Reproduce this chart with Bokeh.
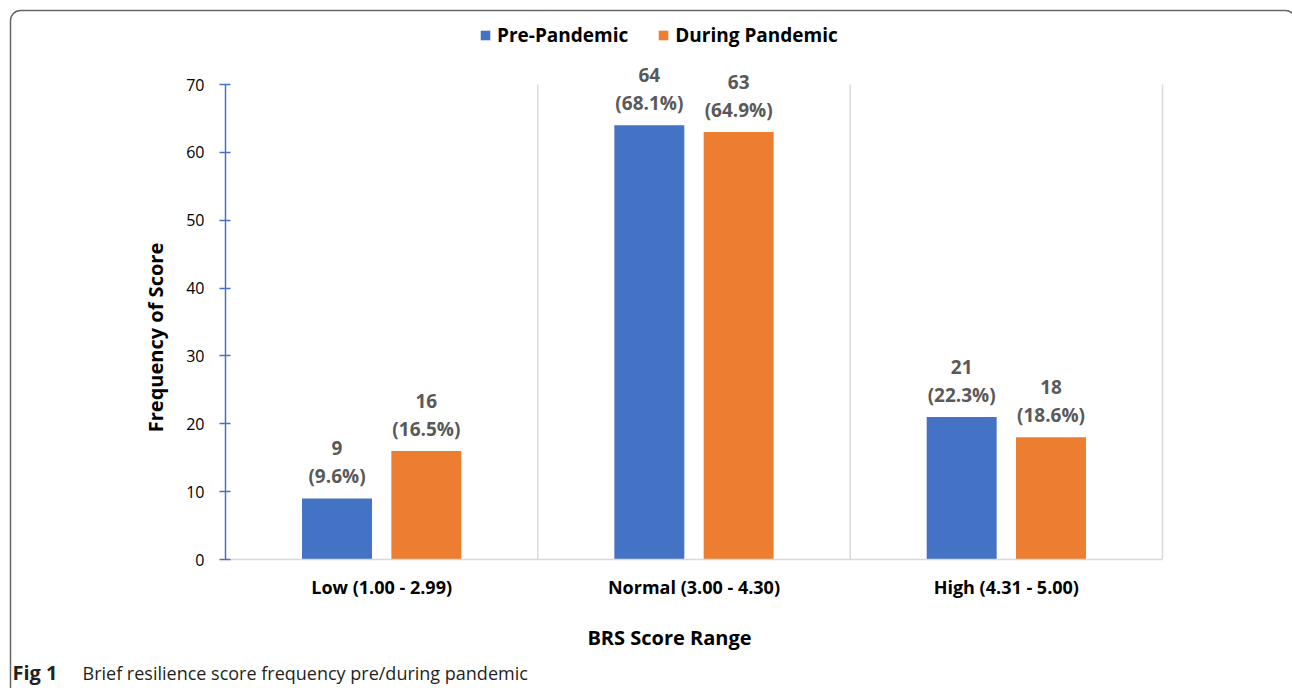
import numpy as np
from bokeh.plotting import figure
from bokeh.models import (ColumnDataSource, FixedTicker, Legend, LegendItem,
                          Label, BoxAnnotation, Range1d)
from bokeh.core.properties import value
from bokeh.embed import file_html
from bokeh.resources import INLINE

categories = ["Low (1.00 - 2.99)", "Normal (3.00 - 4.30)", "High (4.31 - 5.00)"]
pre_values = [9, 64, 21]
pre_pct = ["(9.6%)", "(68.1%)", "(22.3%)"]
during_values = [16, 63, 18]
during_pct = ["(16.5%)", "(64.9%)", "(18.6%)"]
series_names = ["Pre-Pandemic", "During Pandemic"]
y_ticks = [0, 10, 20, 30, 40, 50, 60, 70]
y_max = 70
x_title = "BRS Score Range"
y_title = "Frequency of Score"
caption_bold = "Fig 1"
caption_text = "Brief resilience score frequency pre/during pandemic"

FONT = "Open Sans"
BLUE = "#4472C4"
ORANGE = "#ED7D31"
LABEL_GRAY = "#595959"

W, H = 1292, 688
# frame layout (pixels) of the plotting area inside the canvas
AX_LEFT, AX_RIGHT, AX_TOP, AX_BOTTOM = 225, 1162, 84, 559

n = len(categories)
xppu = (AX_RIGHT - AX_LEFT) / n
yppu = (AX_BOTTOM - AX_TOP) / y_max
x_start = -AX_LEFT / xppu
x_end = n + (W - AX_RIGHT) / xppu
y_end = y_max + AX_TOP / yppu
y_start = -(H - AX_BOTTOM) / yppu

centers = np.arange(n) + 0.5
bar_w = 0.224
off = 0.143

src_pre = ColumnDataSource(dict(x=centers - off, top=pre_values,
                                num=[str(v) for v in pre_values], pct=pre_pct))
src_dur = ColumnDataSource(dict(x=centers + off, top=during_values,
                                num=[str(v) for v in during_values], pct=during_pct))

p = figure(width=W, height=H, output_backend="svg", toolbar_location=None,
           x_range=Range1d(x_start, x_end), y_range=Range1d(y_start, y_end),
           min_border=0, min_border_left=0, min_border_right=0,
           min_border_top=0, min_border_bottom=0)
p.outline_line_color = None
p.background_fill_color = "white"
p.border_fill_color = "white"
p.xgrid.grid_line_color = None
p.ygrid.grid_line_color = None

# category separators (vertical gridlines)
seps = np.arange(1, n + 1)
p.segment(x0=seps, x1=seps, y0=[0] * n, y1=[y_max] * n,
          line_color="#d9d9d9", line_width=1.5)

r1 = p.vbar(x="x", top="top", width=bar_w, source=src_pre, color=BLUE, line_color=None)
r2 = p.vbar(x="x", top="top", width=bar_w, source=src_dur, color=ORANGE, line_color=None)

for src in (src_pre, src_dur):
    p.text(x="x", y="top", text="pct", source=src, y_offset=-22,
           text_align="center", text_baseline="middle",
           text_font=value(FONT), text_font_size="19px", text_font_style="bold",
           text_color=LABEL_GRAY)
    p.text(x="x", y="top", text="num", source=src, y_offset=-50,
           text_align="center", text_baseline="middle",
           text_font=value(FONT), text_font_size="19px", text_font_style="bold",
           text_color=LABEL_GRAY)

# x axis
xa = p.xaxis[0]
xa.fixed_location = 0
xa.bounds = (0, n)
xa.ticker = FixedTicker(ticks=list(centers))
xa.major_label_overrides = {float(c): cat for c, cat in zip(centers, categories)}
xa.major_tick_line_color = None
xa.minor_tick_line_color = None
xa.axis_line_color = "#d9d9d9"
xa.axis_line_width = 1.5
xa.major_label_text_font = FONT
xa.major_label_text_font_size = "18px"
xa.major_label_text_font_style = "bold"
xa.major_label_text_color = "black"
xa.major_label_standoff = 9

# y axis
ya = p.yaxis[0]
ya.fixed_location = 0
ya.bounds = (0, y_max)
ya.ticker = FixedTicker(ticks=y_ticks)
ya.axis_line_color = BLUE
ya.axis_line_width = 1.5
ya.major_tick_line_color = BLUE
ya.major_tick_line_width = 1.5
ya.major_tick_in = 5
ya.major_tick_out = 6
ya.minor_tick_line_color = None
ya.major_label_text_font = FONT
ya.major_label_text_font_size = "16px"
ya.major_label_text_color = "black"
ya.major_label_standoff = 15

# axis titles (placed as in the reference, slightly off-centre)
p.add_layout(Label(x=669, y=H - 637, x_units="screen", y_units="screen",
                   text=x_title, text_font=FONT, text_font_size="20px",
                   text_font_style="bold", text_color="black",
                   text_align="center", text_baseline="middle"))
p.add_layout(Label(x=155, y=H - 337, x_units="screen", y_units="screen",
                   text=y_title, angle=np.pi / 2, text_font=FONT,
                   text_font_size="20px", text_font_style="bold",
                   text_color="black", text_align="center",
                   text_baseline="middle"))

legend = Legend(items=[LegendItem(label=series_names[0], renderers=[r1]),
                       LegendItem(label=series_names[1], renderers=[r2])],
                orientation="horizontal", location=(479, H - 48),
                padding=0, margin=0, spacing=29, glyph_width=12, glyph_height=12,
                label_height=20, label_standoff=6, label_text_font=FONT,
                label_text_font_size="19px",
                label_text_font_style="bold", label_text_color="black",
                border_line_color=None, background_fill_alpha=0)
p.add_layout(legend, "center")

# outer figure box
p.add_layout(BoxAnnotation(left=10, right=W + 3, top=H - 10, bottom=-10,
                           left_units="screen", right_units="screen",
                           top_units="screen", bottom_units="screen",
                           fill_alpha=0, line_color="#666666", line_alpha=1.0,
                           line_width=1.5, border_radius=10))

cap1 = Label(x=12, y=H - 672, x_units="screen", y_units="screen", text=caption_bold,
             text_font=FONT, text_font_size="20px", text_font_style="bold",
             text_color="#231f20", text_baseline="middle")
cap2 = Label(x=82, y=H - 672, x_units="screen", y_units="screen",
             text=caption_text,
             text_font=FONT, text_font_size="18px",
             text_color="#231f20", text_baseline="middle")
p.add_layout(cap1)
p.add_layout(cap2)

open("out.html", "w").write(file_html(p, INLINE))
